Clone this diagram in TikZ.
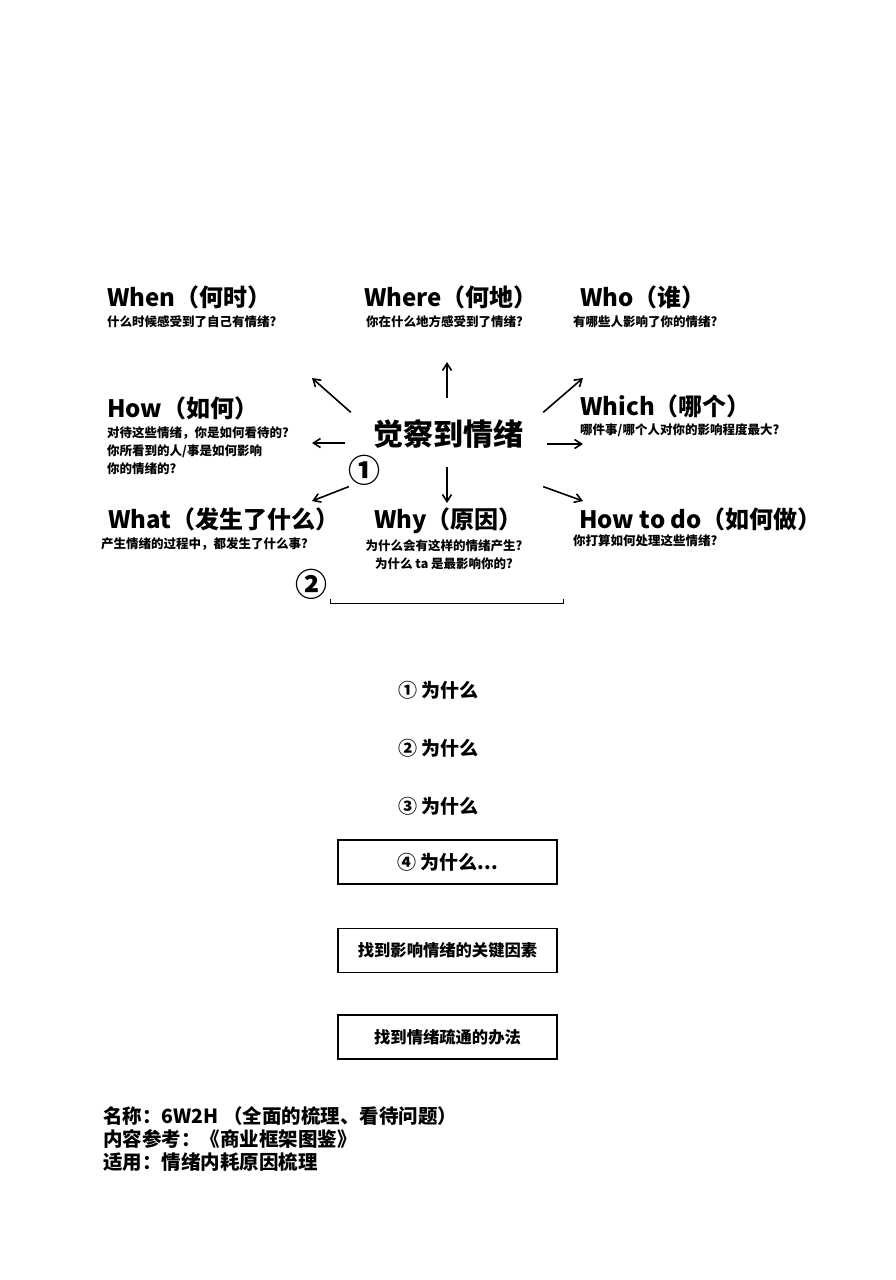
\documentclass[tikz,border=0pt]{standalone}
\usepackage{fontspec}
\setmainfont{Noto Sans CJK SC}
\usetikzlibrary{arrows.meta}
\tikzset{
  title/.style={font=\bfseries\fontsize{24}{28}\selectfont, anchor=west, inner sep=0pt},
  note/.style={font=\bfseries\fontsize{12.5}{18}\selectfont, anchor=west, inner sep=0pt, align=left},
  ray/.style={-{Straight Barb[length=7pt,width=9pt]}, line width=1.6pt},
  askrow/.style={font=\bfseries\fontsize{19}{22}\selectfont, anchor=west, inner sep=0pt},
  stepbox/.style={draw, line width=1.3pt, minimum width=219pt, minimum height=44pt, inner sep=0pt, font=\bfseries\fontsize{16.3}{20}\selectfont}
}

\begin{document}
\begin{tikzpicture}[x=1pt,y=-1pt]
    \useasboundingbox[fill=white] (0,0) rectangle (895,1280);

    % Center
    \node[font=\bfseries\fontsize{30}{34}\selectfont, inner sep=0pt] (core) at (448,434) {觉察到情绪};

    % Top row
    \node[title] (when) at (107,297) {When（何时）};
    \node[note] (whenNote) at (107,322) {什么时候感受到了自己有情绪?};
    \node[title] (where) at (364,297) {Where（何地）};
    \node[note] (whereNote) at (366,322) {你在什么地方感受到了情绪?};
    \node[title] (who) at (580,297) {Who（谁）};
    \node[note] (whoNote) at (573,322) {有哪些人影响了你的情绪?};

    % Middle row
    \node[title] (how) at (107,408) {How（如何）};
    \node[note] (howNote) at (107,451) {对待这些情绪，你是如何看待的?\\你所看到的人/事是如何影响\\你的情绪的?};
    \node[title] (which) at (580,406) {Which（哪个）};
    \node[note] (whichNote) at (580,430) {哪件事/哪个人对你的影响程度最大?};

    % Bottom row
    \node[title] (what) at (108,519) {What（发生了什么）};
    \node[note] (whatNote) at (101,544) {产生情绪的过程中，都发生了什么事?};
    \node[title] (why) at (374,521) {Why（原因）};
    \node[note, anchor=center, align=center] (whyNote) at (444,555) {为什么会有这样的情绪产生?\\为什么 ta 是最影响你的?};
    \node[title] (howto) at (579,519) {How to do（如何做）};
    \node[note] (howtoNote) at (573,541) {你打算如何处理这些情绪?};

    % Markers
    \node[font=\bfseries\fontsize{32}{34}\selectfont, inner sep=0pt] (markOne) at (364,470) {①};
    \node[font=\bfseries\fontsize{32}{34}\selectfont, inner sep=0pt] (markTwo) at (311,584) {②};
    \draw[line width=1pt] (330,599) -- (330,603) -- (563,603) -- (563,599);

    % Arrow tips
    \coordinate (tipN) at (447,362);
    \coordinate (tipNW) at (312,378);
    \coordinate (tipW) at (312,443);
    \coordinate (tipSW) at (312,501);
    \coordinate (tipS) at (447,503);
    \coordinate (tipNE) at (583,378);
    \coordinate (tipE) at (583,444);
    \coordinate (tipSE) at (583,501);

    \draw[ray] ([yshift=21pt]core.north -| tipN) -- (tipN);
    \draw[ray] ([xshift=-22pt,yshift=7pt]core.north west) -- (tipNW);
    \draw[ray] ([xshift=-28pt,yshift=-9pt]core.west) -- (tipW);
    \draw[ray] ([xshift=-24pt,yshift=-38pt]core.south west) -- (tipSW);
    \draw[ray] ([yshift=-18pt]core.south -| tipS) -- (tipS);
    \draw[ray] ([xshift=20pt,yshift=7pt]core.north east) -- (tipNE);
    \draw[ray] ([xshift=24pt,yshift=-10pt]core.east) -- (tipE);
    \draw[ray] ([xshift=20pt,yshift=-38pt]core.south east) -- (tipSE);

    % Why chain
    \node[askrow] (askOne) at (398,690) {① 为什么};
    \node[askrow] (askTwo) at (398,748) {② 为什么};
    \node[askrow] (askThree) at (398,806) {③ 为什么};
    \node[stepbox, font=\bfseries\fontsize{19}{22}\selectfont] (askFour) at (447.5,862) {④ 为什么...};
    \node[stepbox] (keyFactor) at (447.5,950.5) {找到影响情绪的关键因素};
    \node[stepbox] (outlet) at (447.5,1037) {找到情绪疏通的办法};

    % Footer
    \node[font=\bfseries\fontsize{19.5}{23}\selectfont, anchor=west, align=left, inner sep=0pt] (footer) at (103,1139) {名称：6W2H （全面的梳理、看待问题）\\内容参考：《商业框架图鉴》\\适用：情绪内耗原因梳理};
\end{tikzpicture}
\end{document}
